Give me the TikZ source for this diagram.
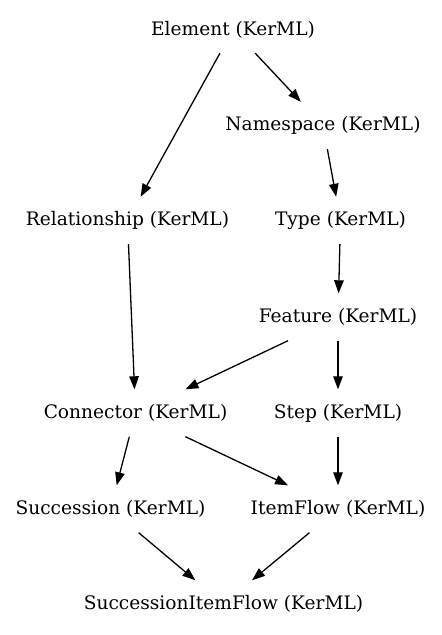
\documentclass[tikz,border=0pt]{standalone}
\usepackage{fontspec}
\setmainfont{DejaVu Serif}
\usepackage{tikz}
\usetikzlibrary{arrows.meta}

\begin{document}
\begin{tikzpicture}[x=1pt, y=-1pt,
  kml/.style={rectangle, inner sep=0pt, minimum height=47pt, font=\fontsize{18.6}{22}\selectfont},
  gen/.style={-{Triangle[length=13pt, width=9.5pt]}, line width=1.3pt}]

\useasboundingbox (0,0) rectangle (442,635);

\node[kml] (elem) at (233,29.5) {Element (KerML)};
\node[kml] (ns) at (323,125.5) {Namespace (KerML)};
\node[kml] (rel) at (127.5,220.5) {Relationship (KerML)};
\node[kml] (type) at (340.5,220.5) {Type (KerML)};
\node[kml] (feat) at (338,317) {Feature (KerML)};
\node[kml] (conn) at (135.5,413) {Connector (KerML)};
\node[kml] (step) at (338,413) {Step (KerML)};
\node[kml] (succ) at (110.5,509) {Succession (KerML)};
\node[kml] (iflow) at (338,509) {ItemFlow (KerML)};
\node[kml] (sif) at (223.5,604) {SuccessionItemFlow (KerML)};

\draw[gen] (elem) -- (rel);
\draw[gen] (elem) -- (ns);
\draw[gen] (ns) -- (type);
\draw[gen] (rel) -- (conn);
\draw[gen] (type) -- (feat);
\draw[gen] (feat) -- (conn);
\draw[gen] (feat) -- (step);
\draw[gen] (conn) -- (succ);
\draw[gen] (conn) -- (iflow);
\draw[gen] (step) -- (iflow);
\draw[gen] (succ) -- (sif);
\draw[gen] (iflow) -- (sif);

\end{tikzpicture}
\end{document}
